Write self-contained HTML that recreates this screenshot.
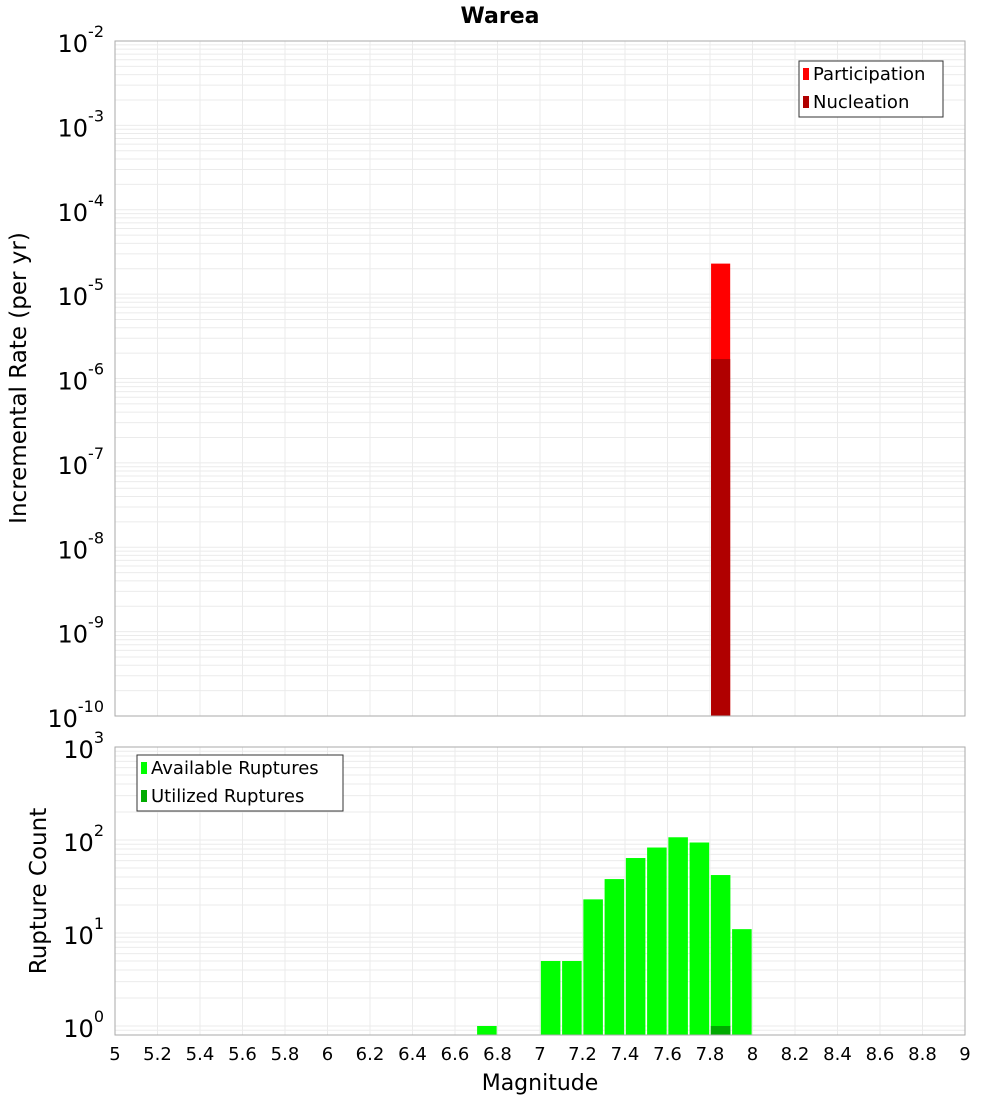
<!DOCTYPE html>
<html><head><meta charset="utf-8"><style>
body{margin:0;background:#fff;font-family:"Liberation Sans","DejaVu Sans",sans-serif}
</style></head><body>
<svg id="c" width="1000" height="1100" xmlns="http://www.w3.org/2000/svg" font-family="DejaVu Sans, Liberation Sans, sans-serif"></svg>
<script>
const magCenters=[7.85];
const participation=[2.3e-5];
const nucleation=[1.7e-6];
const rupMags=[6.75,7.05,7.15,7.25,7.35,7.45,7.55,7.65,7.75,7.85,7.95];
const available=[1,5,5,23,38,64,83,107,94,42,11];
const utilizedMags=[7.85];
const utilized=[1];
const xTicks=[5,5.2,5.4,5.6,5.8,6,6.2,6.4,6.6,6.8,7,7.2,7.4,7.6,7.8,8,8.2,8.4,8.6,8.8,9];
const topExp=[-2,-3,-4,-5,-6,-7,-8,-9,-10];
const botExp=[3,2,1,0];

const svg=document.getElementById('c');
const NS='http://www.w3.org/2000/svg';
function el(t,a,p){const e=document.createElementNS(NS,t);for(const k in a)e.setAttribute(k,a[k]);(p||svg).appendChild(e);return e;}
const X0=115,X1=965;
const x=m=>X0+(m-5)/4*(X1-X0);
const T0=41,T1=716;
const yT=v=>T1-(Math.log10(v)+10)/8*(T1-T0);
const B0=747,B1=1035,PXD=93,B_one=1026;
const yB=v=>B_one-Math.log10(v)*PXD;

function grid(top,bot,yf,eMin,eMax,name){
  const g=el('g',{});
  
  
  for(const t of xTicks){el('line',{x1:x(t),x2:x(t),y1:top,y2:bot,stroke:'#ebebeb','stroke-width':1},g);}
  for(let e=eMin;e<eMax;e++)for(let k=1;k<10;k++){const y=yf(k*Math.pow(10,e));if(y>=top&&y<=bot)el('line',{x1:X0,x2:X1,y1:y,y2:y,stroke:'#ebebeb','stroke-width':1},g);}
}
grid(T0,T1,yT,-10,-1,'top-grid');
grid(B0,B1,yB,-1,3,'bottom-grid');

magCenters.forEach((m,i)=>{
  const r=el('rect',{x:x(m-0.045),y:yT(participation[i]),width:x(m+0.045)-x(m-0.045),height:T1-yT(participation[i]),fill:'#ff0000'});
  
  
  const n=el('rect',{x:x(m-0.045),y:yT(nucleation[i]),width:x(m+0.045)-x(m-0.045),height:T1-yT(nucleation[i]),fill:'#b00000'});
  
  
});
rupMags.forEach((m,i)=>{
  const r=el('rect',{x:x(m-0.046),y:yB(available[i]),width:x(m+0.046)-x(m-0.046),height:B1-yB(available[i]),fill:'#00ff00'});
  
  
});
utilizedMags.forEach((m,i)=>{
  const r=el('rect',{x:x(m-0.046),y:yB(utilized[i]),width:x(m+0.046)-x(m-0.046),height:B1-yB(utilized[i]),fill:'#00aa00'});
  
  
});
const f1=el('rect',{x:X0,y:T0,width:X1-X0,height:T1-T0,fill:'none',stroke:'#aaa'});


const f2=el('rect',{x:X0,y:B0,width:X1-X0,height:B1-B0,fill:'none',stroke:'#aaa'});



function ylab(e,y,name){
  const t=el('text',{x:104,y:y+11,'text-anchor':'end','font-size':24,fill:'#000'});
  
  
  t.textContent='10';
  const s=el('tspan',{dy:-15,'font-size':16},t);s.textContent=String(e);
}
topExp.forEach(e=>ylab(e,yT(Math.pow(10,e)),'top-y-tick'));
botExp.forEach(e=>ylab(e,yB(Math.pow(10,e)),'bottom-y-tick'));
xTicks.forEach(t=>{
  const s=el('text',{x:x(t),y:1060,'text-anchor':'middle','font-size':18,fill:'#000'});
  
  
  s.textContent=String(t);
});
function txt(s,a,name){const t=el('text',a);t.textContent=s;return t;}
txt('Warea',{x:500,y:23,'text-anchor':'middle','font-size':22,'font-weight':'bold'},'chart-title');
txt('Magnitude',{x:540,y:1090,'text-anchor':'middle','font-size':22},'x-axis-title');
txt('Incremental Rate (per yr)',{x:26,y:378,'text-anchor':'middle','font-size':23,transform:'rotate(-90 26 378)'},'top-y-axis-title');
txt('Rupture Count',{x:46,y:891,'text-anchor':'middle','font-size':23,transform:'rotate(-90 46 891)'},'bottom-y-axis-title');

function legend(x0,y0,w,items,name){
  const g=el('g',{});
  
  
  el('rect',{x:x0,y:y0,width:w,height:56,fill:'#fff',stroke:'#333'},g);
  items.forEach((it,i)=>{
    el('rect',{x:x0+4,y:y0+7+i*28,width:6,height:12,fill:it[1]},g);
    const t=el('text',{x:x0+14,y:y0+19+i*28,'font-size':18},g);t.textContent=it[0];
  });
}
legend(799,61,144,[['Participation','#ff0000'],['Nucleation','#b00000']],'top-legend');
legend(137,755,206,[['Available Ruptures','#00ff00'],['Utilized Ruptures','#00aa00']],'bottom-legend');
</script>
</body></html>
